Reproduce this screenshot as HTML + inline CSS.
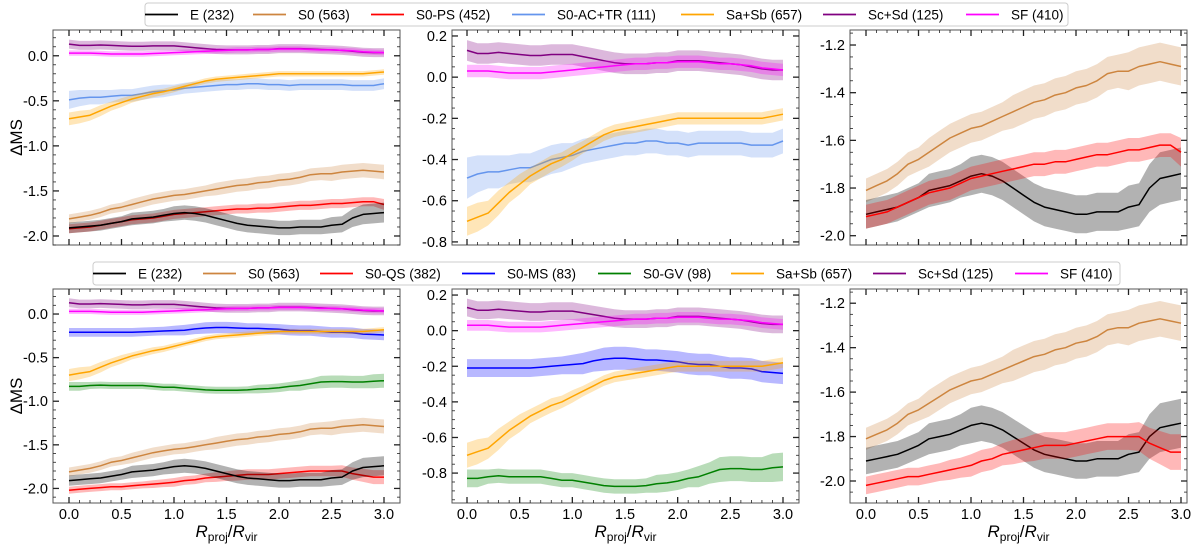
<!DOCTYPE html>
<html><head><meta charset="utf-8"><style>
body{margin:0;background:#fff;font-family:"Liberation Sans",Arial,sans-serif}
svg{display:block}
</style></head><body>
<svg id="c" width="1200" height="548" viewBox="0 0 1200 548" xmlns="http://www.w3.org/2000/svg"></svg>
<script>
const xs = [0,0.1,0.2,0.3,0.4,0.5,0.6,0.7,0.8,0.9,1.0,1.1,1.2,1.3,1.4,1.5,1.6,1.7,1.8,1.9,2.0,2.1,2.2,2.3,2.4,2.5,2.6,2.7,2.8,2.9,3.0];
const E_vals = [-1.91,-1.90,-1.89,-1.88,-1.86,-1.84,-1.81,-1.80,-1.79,-1.77,-1.75,-1.74,-1.75,-1.77,-1.80,-1.83,-1.86,-1.88,-1.89,-1.90,-1.91,-1.91,-1.90,-1.90,-1.90,-1.88,-1.87,-1.80,-1.76,-1.75,-1.74];
const E_err = [0.06,0.06,0.06,0.06,0.06,0.06,0.07,0.07,0.07,0.07,0.08,0.08,0.08,0.08,0.08,0.08,0.08,0.08,0.08,0.08,0.08,0.08,0.08,0.08,0.08,0.09,0.09,0.1,0.11,0.11,0.11];
const S0_vals = [-1.81,-1.79,-1.77,-1.74,-1.70,-1.68,-1.65,-1.62,-1.59,-1.57,-1.55,-1.54,-1.52,-1.50,-1.48,-1.46,-1.44,-1.43,-1.41,-1.40,-1.38,-1.37,-1.35,-1.32,-1.31,-1.31,-1.29,-1.28,-1.27,-1.28,-1.29];
const S0_err = [0.05,0.05,0.05,0.05,0.05,0.05,0.06,0.06,0.06,0.06,0.06,0.06,0.06,0.06,0.07,0.07,0.07,0.07,0.07,0.07,0.07,0.07,0.07,0.07,0.07,0.08,0.08,0.08,0.08,0.08,0.08];
const PS_vals = [-1.92,-1.91,-1.90,-1.88,-1.86,-1.84,-1.82,-1.81,-1.80,-1.78,-1.76,-1.75,-1.74,-1.73,-1.72,-1.71,-1.70,-1.70,-1.69,-1.69,-1.68,-1.67,-1.66,-1.66,-1.65,-1.64,-1.64,-1.63,-1.62,-1.62,-1.65];
const PS_err = [0.05,0.05,0.05,0.05,0.05,0.05,0.05,0.05,0.05,0.05,0.05,0.05,0.05,0.05,0.05,0.05,0.05,0.05,0.05,0.05,0.05,0.05,0.05,0.05,0.05,0.05,0.05,0.05,0.05,0.05,0.06];
const QS_vals = [-2.02,-2.01,-2.00,-1.99,-1.98,-1.98,-1.97,-1.96,-1.95,-1.94,-1.93,-1.91,-1.90,-1.88,-1.87,-1.86,-1.85,-1.84,-1.84,-1.84,-1.83,-1.82,-1.81,-1.80,-1.80,-1.80,-1.80,-1.83,-1.85,-1.87,-1.87];
const QS_err = [0.04,0.04,0.04,0.04,0.04,0.04,0.04,0.04,0.045,0.045,0.05,0.05,0.05,0.05,0.055,0.055,0.06,0.06,0.06,0.06,0.06,0.06,0.06,0.06,0.06,0.06,0.065,0.07,0.075,0.08,0.08];
const AC_vals = [-0.49,-0.47,-0.46,-0.46,-0.45,-0.44,-0.44,-0.42,-0.40,-0.39,-0.38,-0.36,-0.35,-0.34,-0.33,-0.32,-0.32,-0.31,-0.31,-0.32,-0.32,-0.33,-0.32,-0.32,-0.32,-0.32,-0.32,-0.33,-0.33,-0.33,-0.31];
const AC_err = [0.1,0.09,0.08,0.08,0.07,0.07,0.07,0.07,0.07,0.07,0.06,0.06,0.06,0.06,0.06,0.06,0.06,0.06,0.06,0.06,0.06,0.06,0.06,0.06,0.06,0.06,0.06,0.06,0.06,0.06,0.06];
const SaSb_vals = [-0.70,-0.68,-0.66,-0.61,-0.56,-0.52,-0.48,-0.45,-0.42,-0.40,-0.37,-0.34,-0.31,-0.28,-0.26,-0.25,-0.24,-0.23,-0.22,-0.21,-0.20,-0.20,-0.20,-0.20,-0.20,-0.20,-0.20,-0.20,-0.20,-0.19,-0.18];
const SaSb_err = [0.07,0.07,0.06,0.06,0.05,0.05,0.04,0.04,0.04,0.035,0.035,0.03,0.03,0.03,0.03,0.03,0.03,0.03,0.03,0.03,0.03,0.03,0.03,0.03,0.03,0.03,0.03,0.03,0.03,0.03,0.03];
const ScSd_vals = [0.13,0.115,0.115,0.12,0.115,0.11,0.105,0.105,0.11,0.11,0.11,0.10,0.09,0.08,0.07,0.065,0.065,0.065,0.07,0.07,0.08,0.08,0.08,0.075,0.07,0.065,0.06,0.05,0.04,0.035,0.035];
const ScSd_err = [0.05,0.05,0.05,0.05,0.05,0.05,0.05,0.05,0.05,0.05,0.05,0.05,0.05,0.05,0.05,0.05,0.05,0.05,0.05,0.05,0.05,0.05,0.05,0.05,0.05,0.05,0.05,0.05,0.05,0.05,0.05];
const SF_vals = [0.03,0.03,0.03,0.025,0.02,0.02,0.02,0.02,0.025,0.03,0.035,0.04,0.045,0.05,0.055,0.06,0.065,0.065,0.07,0.07,0.075,0.075,0.075,0.07,0.065,0.065,0.06,0.055,0.045,0.04,0.035];
const SF_err = [0.03,0.03,0.03,0.03,0.03,0.03,0.03,0.03,0.03,0.03,0.03,0.03,0.03,0.03,0.03,0.03,0.03,0.03,0.03,0.03,0.03,0.03,0.03,0.03,0.03,0.03,0.03,0.03,0.03,0.03,0.03];
const MS_vals = [-0.21,-0.21,-0.21,-0.21,-0.21,-0.21,-0.21,-0.205,-0.20,-0.195,-0.19,-0.185,-0.17,-0.16,-0.155,-0.155,-0.16,-0.165,-0.165,-0.17,-0.175,-0.185,-0.19,-0.19,-0.20,-0.21,-0.21,-0.215,-0.23,-0.235,-0.24];
const MS_err = [0.05,0.05,0.05,0.05,0.05,0.05,0.05,0.05,0.05,0.05,0.055,0.06,0.06,0.065,0.065,0.065,0.065,0.06,0.06,0.06,0.06,0.06,0.06,0.06,0.06,0.06,0.06,0.06,0.06,0.06,0.06];
const GV_vals = [-0.83,-0.83,-0.82,-0.815,-0.82,-0.82,-0.82,-0.82,-0.83,-0.84,-0.84,-0.85,-0.86,-0.87,-0.875,-0.875,-0.875,-0.87,-0.86,-0.855,-0.845,-0.83,-0.82,-0.80,-0.78,-0.775,-0.775,-0.78,-0.78,-0.77,-0.765];
const GV_err = [0.05,0.05,0.04,0.04,0.04,0.04,0.04,0.04,0.04,0.04,0.04,0.04,0.04,0.04,0.04,0.04,0.04,0.04,0.05,0.05,0.05,0.05,0.06,0.06,0.07,0.07,0.07,0.07,0.07,0.08,0.08];
const xTicks = [0,0.5,1,1.5,2,2.5,3];
const xTickLabels = ["0.0","0.5","1.0","1.5","2.0","2.5","3.0"];
const leftYTicks = [0,-0.5,-1,-1.5,-2];
const leftYLabels = ["0.0","-0.5","-1.0","-1.5","-2.0"];
const midYTicks = [0.2,0,-0.2,-0.4,-0.6,-0.8];
const midYLabels = ["0.2","0.0","-0.2","-0.4","-0.6","-0.8"];
const rightYTicks = [-1.2,-1.4,-1.6,-1.8,-2.0];
const rightYLabels = ["-1.2","-1.4","-1.6","-1.8","-2.0"];

const S = {
 E:{v:E_vals,e:E_err,c:"#000000",n:"E (232)",k:"e"},
 S0:{v:S0_vals,e:S0_err,c:"#cd853f",n:"S0 (563)",k:"s0"},
 PS:{v:PS_vals,e:PS_err,c:"#ff0000",n:"S0-PS (452)",k:"s0-ps"},
 QS:{v:QS_vals,e:QS_err,c:"#ff0000",n:"S0-QS (382)",k:"s0-qs"},
 AC:{v:AC_vals,e:AC_err,c:"#6495ed",n:"S0-AC+TR (111)",k:"s0-ac-tr"},
 MS:{v:MS_vals,e:MS_err,c:"#0000ff",n:"S0-MS (83)",k:"s0-ms"},
 GV:{v:GV_vals,e:GV_err,c:"#008000",n:"S0-GV (98)",k:"s0-gv"},
 SaSb:{v:SaSb_vals,e:SaSb_err,c:"#ffa500",n:"Sa+Sb (657)",k:"sa-sb"},
 ScSd:{v:ScSd_vals,e:ScSd_err,c:"#800080",n:"Sc+Sd (125)",k:"sc-sd"},
 SF:{v:SF_vals,e:SF_err,c:"#ff00ff",n:"SF (410)",k:"sf"}
};
const svg = document.getElementById('c');
const NS = "http://www.w3.org/2000/svg";
function mk(tag, attrs, parent){const el=document.createElementNS(NS,tag);for(const a in attrs)el.setAttribute(a,attrs[a]);(parent||svg).appendChild(el);return el;}

const panels = [
 {id:"top-left",fx:53,fw:347,fy:30,fh:215,x0:69,x3:384,ymax:0.286,ymin:-2.1,yt:leftYTicks,yl:leftYLabels,minor:0.1,series:["ScSd","SF","AC","SaSb","S0","PS","E"],ylab:true,xlab:false},
 {id:"top-middle",fx:452,fw:347,fy:30,fh:215,x0:467,x3:783,ymax:0.229,ymin:-0.815,yt:midYTicks,yl:midYLabels,minor:0.05,series:["ScSd","SF","AC","SaSb"],ylab:false,xlab:false},
 {id:"top-right",fx:850,fw:337,fy:30,fh:215,x0:866,x3:1181,ymax:-1.137,ymin:-2.039,yt:rightYTicks,yl:rightYLabels,minor:0.05,series:["S0","E","PS"],ylab:false,xlab:false},
 {id:"bottom-left",fx:53,fw:347,fy:289,fh:214,x0:69,x3:384,ymax:0.287,ymin:-2.167,yt:leftYTicks,yl:leftYLabels,minor:0.1,series:["ScSd","SF","MS","SaSb","GV","S0","QS","E"],ylab:true,xlab:true},
 {id:"bottom-middle",fx:452,fw:347,fy:289,fh:214,x0:467,x3:783,ymax:0.234,ymin:-0.968,yt:midYTicks,yl:midYLabels,minor:0.05,series:["ScSd","SF","MS","SaSb","GV"],ylab:false,xlab:true},
 {id:"bottom-right",fx:850,fw:337,fy:289,fh:214,x0:866,x3:1181,ymax:-1.136,ymin:-2.099,yt:rightYTicks,yl:rightYLabels,minor:0.05,series:["S0","E","QS"],ylab:false,xlab:true}
];

panels.forEach(p=>{
 const g = mk('g',{});
 
 
 const X = x=>p.x0+(p.x3-p.x0)*x/3;
 const Y = y=>p.fy+(p.ymax-y)/(p.ymax-p.ymin)*p.fh;
 const clipId='clip-'+p.id;
 const cp=mk('clipPath',{id:clipId},g); mk('rect',{x:p.fx,y:p.fy,width:p.fw,height:p.fh},cp);
 const plot=mk('g',{'clip-path':'url(#'+clipId+')'},g);
 p.series.forEach(k=>{
  const s=S[k];
  let up=xs.map((x,i)=>X(x).toFixed(1)+','+Y(s.v[i]+s.e[i]).toFixed(1));
  let dn=xs.map((x,i)=>X(x).toFixed(1)+','+Y(s.v[i]-s.e[i]).toFixed(1)).reverse();
  const band=mk('polygon',{points:up.concat(dn).join(' '),fill:s.c,'fill-opacity':k==="E"?0.3:0.28},plot);
  
  
  const line=mk('polyline',{points:xs.map((x,i)=>X(x).toFixed(1)+','+Y(s.v[i]).toFixed(1)).join(' '),fill:'none',stroke:s.c,'stroke-width':1.5,'stroke-linejoin':'round'},plot);
  
  
 });
 const fr=mk('rect',{x:p.fx,y:p.fy,width:p.fw,height:p.fh,fill:'none',stroke:'#555','stroke-width':1},g);
 
 
 for(let i=0;i<=30;i++){const x=X(i/10);const maj=i%5===0;const L=maj?6:3;
  mk('line',{x1:x,x2:x,y1:p.fy+p.fh,y2:p.fy+p.fh-L,stroke:'#222','stroke-width':maj?1.3:0.8},g);
  mk('line',{x1:x,x2:x,y1:p.fy,y2:p.fy+L,stroke:'#222','stroke-width':maj?1.3:0.8},g);}
 if(p.xlab){xTicks.forEach((t,i)=>{const tx=mk('text',{x:X(t),y:p.fy+p.fh+11+5,'text-anchor':'middle','font-size':14.5,fill:'#000'},g);tx.textContent=xTickLabels[i];
  
  });}
 const n0=Math.ceil(p.ymin/p.minor-1e-6), n1=Math.floor(p.ymax/p.minor+1e-6);
 for(let n=n0;n<=n1;n++){const v=n*p.minor;const maj=p.yt.some(t=>Math.abs(t-v)<1e-6);const y=Y(v);const L=maj?6:3;
  mk('line',{x1:p.fx,x2:p.fx+L,y1:y,y2:y,stroke:'#222','stroke-width':maj?1.3:0.8},g);
  mk('line',{x1:p.fx+p.fw,x2:p.fx+p.fw-L,y1:y,y2:y,stroke:'#222','stroke-width':maj?1.3:0.8},g);}
 p.yt.forEach((t,i)=>{const ty=mk('text',{x:p.fx-5,y:Y(t)+5,'text-anchor':'end','font-size':14.5,fill:'#000'},g);ty.textContent=p.yl[i];
  
  });
 if(p.ylab){const yy=p.fy+p.fh/2;const t=mk('text',{x:0,y:0,transform:'translate(22,'+yy+') rotate(-90)','text-anchor':'middle','font-size':17,fill:'#000'},g);t.textContent='ΔMS';
  
  }
 if(p.xlab){const t=mk('text',{x:(p.fx+p.fw/2),y:537,'text-anchor':'middle','font-size':17,fill:'#000'},g);
  t.innerHTML='<tspan font-style="italic">R</tspan><tspan font-size="12" dy="4">proj</tspan><tspan dy="-4">/</tspan><tspan font-style="italic">R</tspan><tspan font-size="12" dy="4">vir</tspan>';
  
  }
});

function legend(id,x,y,w,h,entries){
 const g=mk('g',{});
 
 
 mk('rect',{x:x,y:y,width:w,height:h,rx:3,fill:'#fff',stroke:'#ccc'},g);
 entries.forEach(([k,tx])=>{const s=S[k];
  const eg=mk('g',{},g);
  
  
  mk('line',{x1:tx-45,x2:tx-12,y1:y+h/2,y2:y+h/2,stroke:s.c,'stroke-width':1.8},eg);
  const t=mk('text',{x:tx,y:y+h/2+5,'font-size':13.5,fill:'#000'},eg);t.textContent=s.n;});
}
legend('top-legend',145,3,923,23,[["E",190],["S0",298],["PS",416],["AC",557],["SaSb",726],["ScSd",868],["SF",1011]]);
legend('bottom-legend',93,262,1027,23,[["E",138],["S0",248],["QS",365],["MS",507],["GV",643],["SaSb",776],["ScSd",918],["SF",1060]]);
</script>
</body></html>
